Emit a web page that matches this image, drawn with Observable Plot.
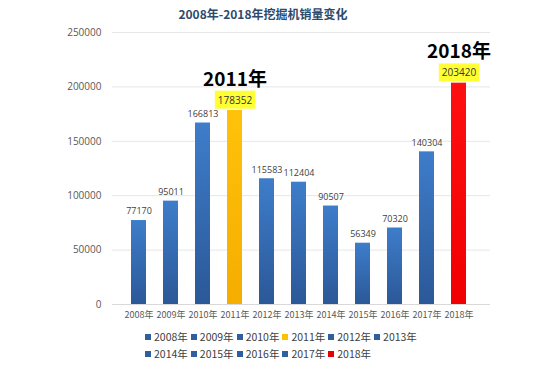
<!DOCTYPE html>
<html><head><meta charset="utf-8">
<script src="https://cdn.jsdelivr.net/npm/d3@7"></script>
<script src="https://cdn.jsdelivr.net/npm/@observablehq/plot@0.6"></script>
<style>
body{margin:0;background:#fff;width:550px;height:366px;position:relative;overflow:hidden;font-family:"Open Sans","Noto Sans CJK SC",sans-serif;}
#title{position:absolute;top:5px;left:0;width:526px;text-align:center;font:bold 12px "Noto Sans CJK SC",sans-serif;color:#2e4a6b;}
#chart{position:absolute;top:24px;left:0;}
#legend{position:absolute;top:328px;left:145px;width:330px;display:flex;flex-wrap:wrap;font:10.5px "Noto Sans CJK SC",sans-serif;color:#404040;line-height:17px;}
#legend .it{display:flex;align-items:center;margin-right:3px;}
#legend .sw{width:6px;height:6px;margin-right:3px;}
</style></head>
<body>
<div id="title">2008年-2018年挖掘机销量变化</div>
<div id="chart"></div>
<div id="legend"></div>
<script>
const years = ["2008年","2009年","2010年","2011年","2012年","2013年","2014年","2015年","2016年","2017年","2018年"];
const sales = [77170,95011,166813,178352,115583,112404,90507,56349,70320,140304,203420];
const highlight = ["2011年","2018年"];
const yTicks = [0,50000,100000,150000,200000,250000];

const fillFor = y => y === "2011年" ? "url(#gOrange)" : y === "2018年" ? "url(#gRed)" : "url(#gBlue)";
const legendColor = y => y === "2011年" ? "#ffc000" : y === "2018年" ? "#e60000" : "#2f5f9e";

const data = years.map((y,i)=>({year:y, value:sales[i], hi:highlight.includes(y)}));

const chart = Plot.plot({
  width:550, height:302,
  marginLeft:114, marginRight:67, marginTop:8, marginBottom:22,
  x:{domain:years, padding:0.52, label:null},
  y:{domain:[0,250000], label:null},
  style:{fontFamily:"'Open Sans','Noto Sans CJK SC',sans-serif", color:"#595959"},
  marks:[
    Plot.ruleY(yTicks.slice(1), {stroke:"#e6e6e6", strokeWidth:1, insetLeft:-2, insetRight:-7}),
    Plot.ruleY([0], {stroke:"#d9d9d9", insetLeft:-2, insetRight:-7}),
    Plot.axisY({ticks:yTicks, tickSize:0, tickPadding:13, tickFormat:d=>String(d), fontSize:10, fill:"#595959", label:null}),
    Plot.axisX({tickSize:0, tickPadding:7, fontSize:9, fill:"#595959", label:null, fontFamily:"'Noto Sans CJK SC',sans-serif"}),
    Plot.barY(data, {x:"year", y:"value", fill:d=>fillFor(d.year)}),
    Plot.text(data.filter(d=>!d.hi), {x:"year", y:"value", text:d=>String(d.value), dy:-9, fontSize:9, fill:"#404040"}),
    Plot.text(data.filter(d=>d.hi), {x:"year", y:"value", text:d=>String(d.value), dy:-10, fontSize:10, fill:"#333", className:"hilab"}),
    Plot.text(data.filter(d=>d.hi), {x:"year", y:"value", text:"year", dy:-31, fontSize:19, fontWeight:"bold", fill:"#000", fontFamily:"'Noto Sans CJK SC',sans-serif"})
  ]
});
document.getElementById("chart").appendChild(chart);

// gradients
const svg = d3.select(chart);
const defs = svg.insert("defs", ":first-child");
[["gBlue","#3e7dca","#2b5898"],["gOrange","#ffc20a","#f5ad00"],["gRed","#ff1010","#f00000"]].forEach(([id,a,b])=>{
  const g = defs.append("linearGradient").attr("id",id).attr("x1",0).attr("y1",0).attr("x2",0).attr("y2",1);
  g.append("stop").attr("offset","0%").attr("stop-color",a);
  g.append("stop").attr("offset","100%").attr("stop-color",b);
});
// yellow highlight behind the highlighted value labels
svg.selectAll("g.hilab text").each(function(){
  const bb = this.getBBox();
  d3.select(this.parentNode).insert("rect", ()=>this)
    .attr("x", bb.x-3).attr("y", bb.y-2).attr("width", bb.width+6).attr("height", bb.height+4)
    .attr("fill", "#ffff33").attr("transform", this.getAttribute("transform"));
});

// legend (6 items on the first row, 5 on the second)
const lg = d3.select("#legend");
years.forEach((y,i)=>{
  const it = lg.append("div").attr("class","it");
  it.append("div").attr("class","sw").style("background", legendColor(y));
  it.append("span").text(y);
  if (i === 5) lg.append("div").style("flex-basis","100%").style("height","0");
});
</script>
</body></html>
